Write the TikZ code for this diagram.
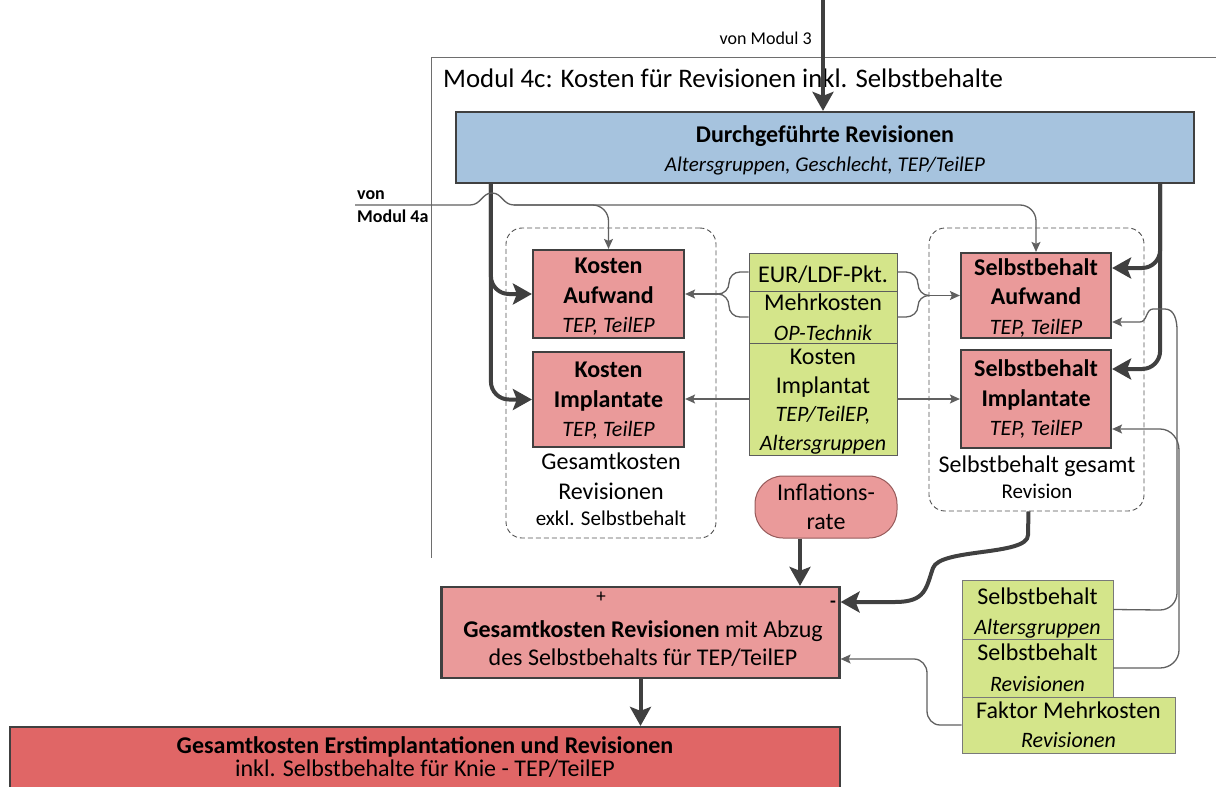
\documentclass[tikz,border=0pt]{standalone}
\usepackage{fontspec}
\setmainfont{Carlito}
\usetikzlibrary{arrows.meta}
\newcommand{\setfs}[2]{\fontsize{#1}{#2}\selectfont}
% invisible rule that sets the height of a box's first line
\newcommand{\lineheight}[1]{\rule{0pt}{#1}}
\definecolor{bluefill}{RGB}{166,195,222}
\definecolor{redfill}{RGB}{234,154,154}
\definecolor{darkred}{RGB}{224,102,102}
\definecolor{greenfill}{RGB}{212,229,138}
\definecolor{edge}{RGB}{64,64,64}
\definecolor{wirecol}{RGB}{96,96,96}
\definecolor{framecol}{RGB}{110,110,110}
\definecolor{infledge}{RGB}{150,90,90}

\begin{document}
\begin{tikzpicture}[x=1pt,y=-1pt,
  cbox/.style={draw=edge, line width=2.2pt, inner sep=0pt, align=center, font=\setfs{24}{29.5}},
  redbox/.style={cbox, fill=redfill},
  greenbox/.style={draw=edge!85, line width=0.9pt, fill=greenfill, inner sep=0pt, align=center, font=\setfs{24}{29}},
  group/.style={draw=edge!90, dash pattern=on 5pt off 3pt, line width=0.9pt, rounded corners=16pt, inner sep=0pt},
  thk/.style={draw=edge, line width=4pt, -{Stealth[length=19pt,width=21pt,inset=4pt]}},
  wire/.style={draw=wirecol, line width=1.3pt},
  wirearr/.style={wire, -{Stealth[length=10pt,width=9pt,inset=2pt]}},
  lbl/.style={inner sep=0pt, anchor=base, font=\setfs{24}{29}},
]
\clip (0,0) rectangle (1216,787);

% module frame and headings
\draw[draw=framecol, line width=1pt] (1216,57) -- (431,57) -- (431,558);
\node[inner sep=0pt, anchor=base west, font=\setfs{26.8}{30}] (title) at (443,87) {Modul 4c: Kosten für Revisionen inkl. Selbstbehalte};
\node[inner sep=0pt, anchor=base east, font=\setfs{18}{22}] (vm3) at (812,44) {von Modul 3};
\node[inner sep=0pt, anchor=base west, font=\setfs{18}{22}\bfseries] (von) at (357,199) {von};
\node[inner sep=0pt, anchor=base west, font=\setfs{18}{22}\bfseries] (m4a) at (357,222) {Modul 4a};

% dashed groups
\node[group, minimum width=210pt, minimum height=310pt] (lg) at (611,383) {};
\node[group, minimum width=215pt, minimum height=283pt] (rg) at (1036.5,369.5) {};
\node[lbl] (lg1) at (611,469) {Gesamtkosten};
\node[lbl] (lg2) at (611,499) {Revisionen};
\node[lbl, font=\setfs{21}{26}] (lg3) at (611,525) {exkl. Selbstbehalt};
\node[lbl] (rg1) at (1037,472) {Selbstbehalt gesamt};
\node[lbl, font=\setfs{21}{26}] (rg2) at (1037,498) {Revision};

% boxes
\node[cbox, fill=bluefill, minimum width=738pt, minimum height=71pt] (blue) at (825,147.5)
  {\lineheight{23pt}\textbf{Durchgeführte Revisionen}\\{\setfs{21}{28}\itshape Altersgruppen, Geschlecht, TEP/TeilEP}};
\node[redbox, minimum width=151pt, minimum height=88pt] (ka) at (608.5,294)
  {\lineheight{21.5pt}\textbf{Kosten}\\\textbf{Aufwand}\\{\setfs{22}{29.5}\itshape TEP, TeilEP}};
\node[redbox, minimum width=151pt, minimum height=95pt] (ki) at (608.5,399.5)
  {\lineheight{18pt}\textbf{Kosten}\\\textbf{Implantate}\\{\setfs{22}{29.5}\itshape TEP, TeilEP}};
\node[redbox, minimum width=150pt, minimum height=85pt] (sa) at (1036,295.5)
  {\lineheight{21pt}\textbf{Selbstbehalt}\\\textbf{Aufwand}\\{\setfs{22}{29.5}\itshape TEP, TeilEP}};
\node[redbox, minimum width=150pt, minimum height=98pt] (si) at (1036,399)
  {\textbf{Selbstbehalt}\\\textbf{Implantate}\\{\setfs{22}{29.5}\itshape TEP, TeilEP}};

\node[greenbox, minimum width=148pt, minimum height=38pt] (g1) at (823,272) {\lineheight{22pt}EUR/LDF-Pkt.};
\node[greenbox, minimum width=148pt, minimum height=52pt, font=\setfs{24}{30}] (g2) at (823,317)
  {Mehrkosten\\{\setfs{22}{30}\itshape OP-Technik}};
\node[greenbox, minimum width=148pt, minimum height=112pt, font=\setfs{24}{28.5}] (g3) at (823,399)
  {\lineheight{20.5pt}Kosten\\Implantat\\{\setfs{22}{28.5}\itshape TEP/TeilEP,}\\{\setfs{22}{28.5}\itshape Altersgruppen}};

\node[draw=infledge, line width=1pt, fill=redfill, rounded corners=28pt, minimum width=142pt,
  minimum height=62pt, align=center, inner sep=0pt, font=\setfs{24}{29}] (infl) at (826,507) {Inflations-\\rate};

\node[redbox, minimum width=398pt, minimum height=91pt] (gr) at (640.5,632.5) {};
\node[inner sep=0pt, align=center, font=\setfs{24}{28}] (grt) at (643,644)
  {\textbf{Gesamtkosten Revisionen} mit Abzug\\des Selbstbehalts für TEP/TeilEP};
\node[inner sep=0pt, font=\setfs{19}{20}] (plus) at (601,597) {+};
\node[inner sep=0pt, font=\setfs{19}{20}\bfseries] (minus) at (833,604) {-};

\node[cbox, fill=darkred, minimum width=830pt, minimum height=70pt] (final) at (425,762) {};
\node[inner sep=0pt, align=center, font=\setfs{24}{23}] (finalt) at (425,757)
  {\textbf{Gesamtkosten Erstimplantationen und Revisionen}\\inkl. Selbstbehalte für Knie - TEP/TeilEP};

\node[greenbox, draw=edge!70, minimum width=151pt, minimum height=59pt, font=\setfs{24}{30}] (gl1) at (1037.5,609.5)
  {\lineheight{23pt}Selbstbehalt\\{\setfs{22}{30}\itshape Altersgruppen}};
\node[greenbox, draw=edge!70, minimum width=151pt, minimum height=58pt, font=\setfs{24}{31}] (gl2) at (1037.5,668)
  {Selbstbehalt\\{\setfs{22}{31}\itshape Revisionen}};
\node[greenbox, draw=edge!70, minimum width=213pt, minimum height=56pt, font=\setfs{24}{29}] (gl3) at (1068.5,725)
  {Faktor Mehrkosten\\{\setfs{22}{29}\itshape Revisionen}};

% connector end points
\coordinate (m3) at (823,0);
\coordinate (b1) at ([xshift=36pt]blue.south west);
\coordinate (b2) at ([xshift=-35pt]blue.south east);
\coordinate (v4a) at (355,205);
\coordinate (jl) at (718,294);
\coordinate (jr) at (929,295.5);

% thick flows
\draw[thk] (m3) -- (m3 |- blue.north);
\draw[thk, rounded corners=18pt] (b1) |- (ka.west);
\draw[thk, rounded corners=18pt] (b1) |- (ki.west);
\draw[thk, rounded corners=18pt] (b2) |- ([yshift=27.5pt]sa.east);
\draw[thk, rounded corners=18pt] (b2) |- ([yshift=30pt]si.east);
\draw[thk] ([xshift=-26pt]infl.south) -- ([xshift=-26pt]infl.south |- gr.north);
\draw[thk] ([xshift=-8pt]rg.south) -- (1028,535) .. controls (1028,556) and (940,548) .. (933,568)
  .. controls (926,588) and (926,602) .. (895,602) -- ([yshift=30.5pt]gr.east);
\draw[thk] (gr.south) -- (gr.south |- final.north);

% input from Modul 4a, hopping over the thick line
\draw[wire] (v4a) -- (470,205) .. controls (481,205) and (482,193) .. (492,193)
  .. controls (502,193) and (503,205) .. (514,205) coordinate (h4a);
\draw[wirearr, rounded corners=16pt] (h4a) -| (sa.north);
\draw[wirearr, rounded corners=16pt] (h4a) -| (ka.north);

% price inputs into the cost boxes
\draw[wire] (g1.west) -- (740,272) to[out=180,in=90] (729,283) to[out=-90,in=0] (jl);
\draw[wire] (g2.west) -- (740,317) to[out=180,in=-90] (729,306) to[out=90,in=0] (jl);
\draw[wirearr] (jl) -- (ka.east);
\draw[wire] (g1.east) -- (906,272) to[out=0,in=90] (918,284) to[out=-90,in=180] (jr);
\draw[wire] (g2.east) -- (906,317) to[out=0,in=-90] (918,306) to[out=90,in=180] (jr);
\draw[wirearr] (jr) -- (sa.west);
\draw[wirearr] (g3.west) -- (g3.west -| ki.east);
\draw[wirearr] (g3.east) -- (g3.east -| si.west);

% deductible inputs on the right
\draw[wirearr] (gl1.east) -- (1160,610) to[out=0,in=-90] (1177,593) -- (1177,330)
  to[out=90,in=0] (1165,309) -- (1153,309) to[out=180,in=0] (1140,322) -- ([yshift=-26.5pt]sa.east);
\draw[wirearr] (gl2.east) -- (1160,668) to[out=0,in=-90] (1179,650) -- (1179,450)
  to[out=90,in=0] (1160,429) -- ([yshift=-30pt]si.east);
\draw[wirearr] (gl3.west) -- (940,725) to[out=180,in=-90] (927,711) -- (927,673)
  to[out=90,in=0] (914,659) -- ([yshift=-26.5pt]gr.east);
\end{tikzpicture}
\end{document}
